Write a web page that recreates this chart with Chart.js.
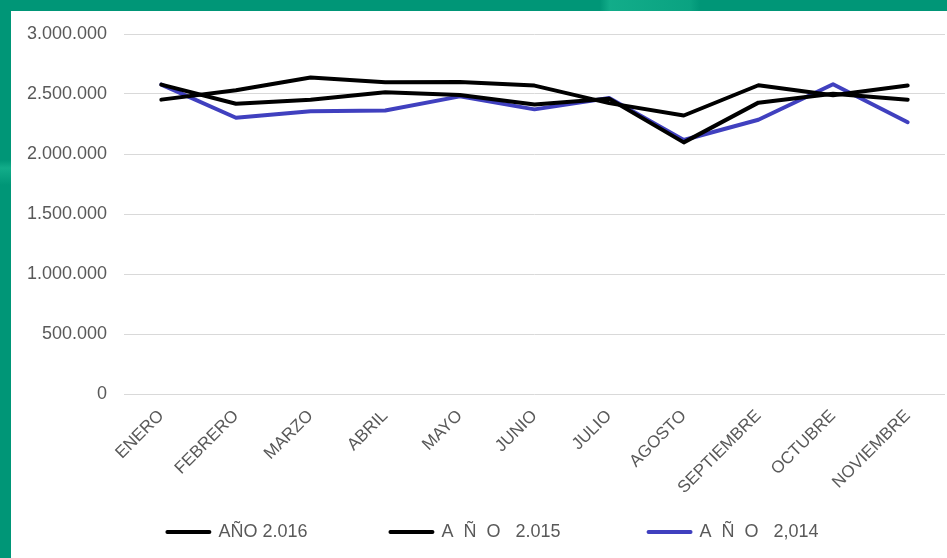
<!DOCTYPE html>
<html>
<head>
<meta charset="utf-8">
<script src="https://cdn.jsdelivr.net/npm/chart.js@4/dist/chart.umd.min.js"></script>
<style>
  html, body { margin: 0; padding: 0; }
  body {
    width: 947px; height: 558px; overflow: hidden;
    background:
      linear-gradient(90deg, rgba(0,0,0,0) 600px, rgba(40,200,160,0.45) 610px, rgba(40,200,160,0.25) 690px, rgba(0,0,0,0) 700px) 0 0 / 947px 11px no-repeat,
      linear-gradient(180deg, rgba(0,0,0,0) 160px, rgba(40,200,160,0.45) 168px, rgba(0,0,0,0) 185px) 0 0 / 11px 558px no-repeat,
      #009677;
  }
  #wrap { position: absolute; left: 11px; top: 11px; width: 936px; height: 547px; background: #ffffff; }
</style>
</head>
<body>
<div id="wrap"><canvas id="c"></canvas></div>
<script>
const months = ['ENERO','FEBRERO','MARZO','ABRIL','MAYO','JUNIO','JULIO','AGOSTO','SEPTIEMBRE','OCTUBRE','NOVIEMBRE'];
const seriesNames = ['AÑO 2.016', 'A  Ñ  O   2.015', 'A  Ñ  O   2,014'];
const anio2016 = [2453000, 2531000, 2637000, 2598000, 2601000, 2570000, 2424000, 2321000, 2573000, 2489000, 2570000];
const anio2015 = [2578000, 2419000, 2453000, 2514000, 2491000, 2413000, 2460000, 2097000, 2428000, 2503000, 2453000];
const anio2014 = [2578000, 2302000, 2357000, 2363000, 2480000, 2372000, 2466000, 2117000, 2285000, 2581000, 2265000];
const yTicks = [0, 500000, 1000000, 1500000, 2000000, 2500000, 3000000];

function fmt(v) {
  return String(v).replace(/\B(?=(\d{3})+(?!\d))/g, '.');
}

const FONT = 'Liberation Sans, Arial, sans-serif';
const lineStyle = { borderWidth: 4, pointRadius: 0, pointHoverRadius: 0, tension: 0, fill: false,
  borderCapStyle: 'round', borderJoinStyle: 'round' };

const LEGEND_SHIFT = 13;
const shiftLegend = {
  id: 'shiftLegend',
  afterLayout(chart) {
    const l = chart.legend;
    if (l) { l.left += LEGEND_SHIFT; l.right += LEGEND_SHIFT; }
  }
};

new Chart(document.getElementById('c'), {
  type: 'line',
  data: {
    labels: months,
    datasets: [
      Object.assign({ label: seriesNames[0], data: anio2016, borderColor: '#000000', backgroundColor: '#000000' }, lineStyle),
      Object.assign({ label: seriesNames[1], data: anio2015, borderColor: '#000000', backgroundColor: '#000000' }, lineStyle),
      Object.assign({ label: seriesNames[2], data: anio2014, borderColor: '#4040BF', backgroundColor: '#4040BF' }, lineStyle)
    ]
  },
  plugins: [shiftLegend],
  options: {
    responsive: true,
    maintainAspectRatio: false,
    animation: false,
    layout: { padding: { top: 23, left: 4, right: 2, bottom: 7 } },
    plugins: {
      tooltip: { enabled: false },
      legend: {
        position: 'bottom',
        labels: {
          usePointStyle: true,
          pointStyle: 'line',
          pointStyleWidth: 42,
          boxWidth: 42,
          padding: 13,
          color: '#595959',
          font: { family: FONT, size: 18 },
          generateLabels(chart) {
            const items = Chart.defaults.plugins.legend.labels.generateLabels(chart);
            const pad = ['              ', '               ', ''];
            items.forEach((it, i) => { it.text = it.text + pad[i]; it.lineCap = 'round'; });
            return items;
          }
        }
      }
    },
    scales: {
      x: {
        offset: true,
        grid: { display: false, drawTicks: false },
        border: { display: false },
        afterFit(scale) { scale.height = 116; },
        ticks: {
          color: '#595959',
          maxRotation: 45, minRotation: 45,
          autoSkip: false,
          padding: 12,
          font: { family: FONT, size: 17 }
        }
      },
      y: {
        min: 0, max: 3000000,
        afterBuildTicks(scale) { scale.ticks = yTicks.map(v => ({ value: v })); },
        afterFit(scale) { scale.width = 109; scale.paddingTop = 11; scale.paddingBottom = 11; },
        grid: { color: '#d9d9d9', lineWidth: 1, drawTicks: false },
        border: { display: false },
        ticks: {
          color: '#595959',
          padding: 17,
          font: { family: FONT, size: 18 },
          callback: (v) => fmt(v)
        }
      }
    }
  }
});
</script>
</body>
</html>
